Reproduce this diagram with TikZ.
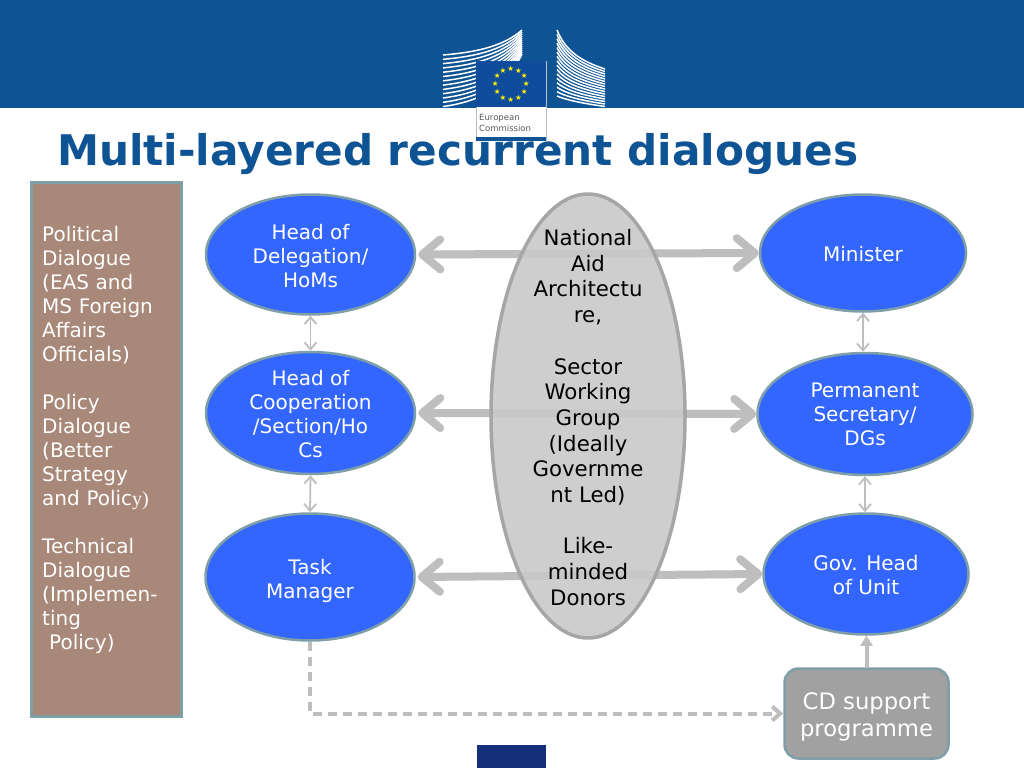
\documentclass[tikz,border=0pt]{standalone}
\usepackage{fontspec}
\setmainfont{DejaVu Sans}
\newfontfamily\serifpart{Liberation Serif}
\usetikzlibrary{arrows.meta,shapes.geometric}
\definecolor{banner}{HTML}{0E5494}
\definecolor{bluefill}{HTML}{3366FF}
\definecolor{edgeteal}{HTML}{7F9FA8}
\definecolor{boxbrown}{HTML}{A88878}
\definecolor{flagblue}{HTML}{0F4C9C}
\definecolor{lightgrey}{HTML}{BEBEBE}
\definecolor{squareblue}{HTML}{14307A}
\tikzset{
  x=1pt,y=-1pt,
  blob/.style={ellipse,draw=edgeteal,line width=2.5pt,fill=bluefill,inner sep=0pt},
  blobtext/.style={text=white,inner sep=0pt,align=center,font=\fontsize{20}{24}\selectfont},
  thick arrow/.style={draw=lightgrey,line width=8pt,shorten <=2pt,{Straight Barb[length=18pt,width=30pt,round]}-{Straight Barb[length=18pt,width=30pt,round]}},
  thin arrow/.style={draw=lightgrey,line width=1.8pt,{Straight Barb[length=7pt,width=12pt]}-{Straight Barb[length=7pt,width=12pt]}},
  dash arrow/.style={draw=lightgrey,line width=4pt,dash pattern=on 9pt off 6pt,-{Straight Barb[length=8pt,width=14pt]}},
  up arrow/.style={draw=lightgrey,line width=4pt,-{Triangle[length=10pt,width=12pt]}},
  building/.style={draw=white,line width=1.5pt}
}
\begin{document}
\begin{tikzpicture}
\useasboundingbox (0,0) rectangle (1024,768);
\fill[white] (0,0) rectangle (1024,768);
\fill[banner] (0,0) rectangle (1024,108);
% logo buildings
\begin{scope}
\clip (430,20) rectangle (620,108);
\foreach \i in {0,...,12} {
  \draw[building] (443,{55+\i*4.3}) .. controls (480,{52+\i*4.1}) and (505,{45+\i*3.6}) .. (522,{30+\i*2.0});
}
\foreach \i in {0,...,15} {
  \draw[building] (557,{30+\i*4.4}) .. controls (565,{50+\i*3.3}) and (580,{61+\i*2.8}) .. (605,{69+\i*2.5});
}
\end{scope}
% logo
\fill[white] (476,61) rectangle (546,140);
\draw[lightgrey,line width=.6pt] (476,61) rectangle (546,140);
\fill[flagblue] (476,61) rectangle (546,107);
\fill[banner] (476,137) rectangle (546,141);
\foreach \a in {0,30,...,330} {
  \node[text=yellow,inner sep=0pt,font=\fontsize{7.5}{7.5}\selectfont] at ({510.7+15.5*cos(\a)},{84-15.5*sin(\a)}) {★};
}
\node[text=black!65,align=left,anchor=west,inner sep=0pt,font=\fontsize{8.5}{11}\selectfont] (logotext) at (479,122.5) {European\\Commission};
% left box
\node[rectangle,draw=edgeteal,line width=2.5pt,fill=boxbrown,minimum width=150pt,minimum height=534pt,inner sep=0pt] (side) at (106.5,449.5) {};
\node[text=white,inner sep=0pt,anchor=west,align=left,text width=135pt,font=\fontsize{20}{24}\selectfont] (sidetext) at (42,440.4) {Political\\Dialogue\\(EAS and\\MS Foreign\\Affairs\\Officials)\\\mbox{}\\Policy\\Dialogue\\(Better\\Strategy\\and Polic{\serifpart y)}\\\mbox{}\\Technical\\Dialogue\\(Implemen-\\ting\\\hspace*{7pt}Policy)};
% nodes
\node[blob,minimum width=209pt,minimum height=120pt] (hod) at (310.5,254.5) {};
\node[blob,minimum width=209pt,minimum height=122pt] (hoc) at (310.5,413) {};
\node[blob,minimum width=209pt,minimum height=127pt] (task) at (310,577) {};
\node[blob,minimum width=206pt,minimum height=117pt] (min) at (863,253) {};
\node[blob,minimum width=215pt,minimum height=122pt] (perm) at (865,414) {};
\node[blob,minimum width=205pt,minimum height=121pt] (gov) at (866,574) {};
\node[rectangle,rounded corners=14pt,draw=edgeteal,line width=2.5pt,fill=black!37,minimum width=164pt,minimum height=90pt,inner sep=0pt] (cd) at (866.5,713.5) {};
\node[blobtext] (hodtext) at (310.5,256.5) {Head of\\Delegation/\\HoMs};
\node[blobtext] (hoctext) at (310.5,414) {Head of\\Cooperation\\/Section/Ho\\Cs};
\node[blobtext] (tasktext) at (310,581) {Task\\Manager};
\node[blobtext] (mintext) at (863,254) {Minister};
\node[blobtext] (permtext) at (865,414) {Permanent\\Secretary/\\DGs};
\node[blobtext] (govtext) at (866,575) {Gov. Head\\of Unit};
\node[blobtext,font=\fontsize{22.7}{27}\selectfont] (cdtext) at (866.5,717) {CD support\\programme};
% connectors
\draw[thick arrow] (hod.east) -- (min.west);
\draw[thick arrow] (hoc.east) -- (perm.west);
\draw[thick arrow] (task.east) -- (gov.west);
\draw[thin arrow] (hod.south) -- (hoc.north);
\draw[thin arrow] (hoc.south) -- (task.north);
\draw[thin arrow] (min.south) -- (min.south |- perm.north);
\draw[thin arrow] (perm.south) -- (perm.south |- gov.north);
\draw[up arrow] (cd.north) -- (cd.north |- gov.south);
\draw[dash arrow] (task.south) |- (cd.west);
% centre ellipse
\node[ellipse,draw=black!35,line width=3.5pt,fill=black!21,fill opacity=.9,draw opacity=1,inner sep=0pt,minimum width=194pt,minimum height=444pt] (centre) at (588,416) {};
\node[inner sep=0pt,align=center,font=\fontsize{21.3}{25.7}\selectfont] (centretext) at (588,417.5) {National\\Aid\\Architectu\\re,\\\mbox{}\\Sector\\Working\\Group\\(Ideally\\Governme\\nt Led)\\\mbox{}\\Like-\\minded\\Donors};
% title
\node[anchor=west,inner sep=0pt,text=banner,font=\bfseries\fontsize{42.2}{50}\selectfont] (title) at (57,154) {Multi-layered recurrent dialogues};
% bottom square
\fill[squareblue] (477,745) rectangle (546,768);
\end{tikzpicture}
\end{document}
